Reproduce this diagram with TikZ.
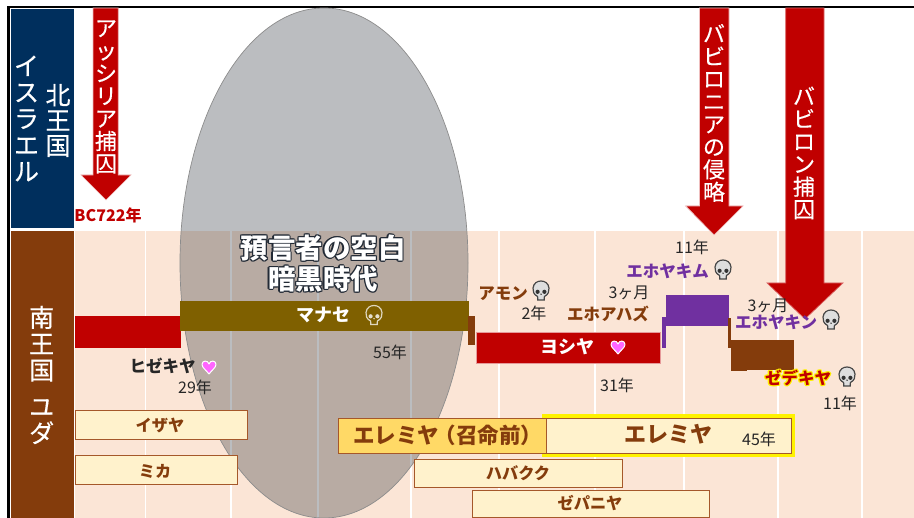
\documentclass[tikz,border=0pt]{standalone}
\usepackage{fontspec}
\setmainfont{Noto Sans CJK JP}
\newfontfamily\medfont[FakeBold=0.35]{Noto Sans CJK JP}
\usetikzlibrary{calc}
\definecolor{navyb}{HTML}{002F5D}
\definecolor{brownb}{HTML}{843C0C}
\definecolor{peach}{HTML}{FBE5D6}
\definecolor{redb}{HTML}{C00000}
\definecolor{olive}{HTML}{7F6000}
\definecolor{purpleb}{HTML}{7030A0}
\definecolor{cream}{HTML}{FFF2CC}
\definecolor{gold}{HTML}{FFD966}
\definecolor{inkt}{HTML}{262626}
\definecolor{boxedge}{HTML}{A5582A}
\definecolor{veil}{HTML}{1F2530}
\definecolor{heartp}{HTML}{FF66FF}
\definecolor{titleedge}{HTML}{222A35}
\newcommand\glowone[3]{\rlap{\kern#1\raise#2\hbox{#3}}}
\newcommand\glowtxt[3]{{\color{#1}%
\glowone{#2}{0pt}{#3}\glowone{-#2}{0pt}{#3}\glowone{0pt}{#2}{#3}\glowone{0pt}{-#2}{#3}%
\glowone{\dimexpr#2*7/10\relax}{\dimexpr#2*7/10\relax}{#3}\glowone{\dimexpr-#2*7/10\relax}{\dimexpr#2*7/10\relax}{#3}%
\glowone{\dimexpr#2*7/10\relax}{\dimexpr-#2*7/10\relax}{#3}\glowone{\dimexpr-#2*7/10\relax}{\dimexpr-#2*7/10\relax}{#3}}#3}
\tikzset{
  x=1pt,y=-1pt,
  lab/.style={inner sep=0pt,align=center},
  yrs/.style={lab,text=inkt,font=\fontsize{16}{18}\selectfont},
  kingb/.style={lab,font=\fontsize{16.5}{18}\selectfont\bfseries},
  vert/.style={lab,text=white,font=\medfont\fontsize{#1}{22.6}\selectfont},
  vertl/.style={lab,text=white,font=\medfont\fontsize{25}{26.4}\selectfont},
  bar/.style={fill=#1,draw=none},
  prophet/.style={fill=cream,draw=boxedge,line width=1pt},
  proname/.style={lab,text=brownb,font=\fontsize{16.2}{18}\selectfont\bfseries},
  arrowr/.style={fill=redb,draw=white!75!redb,line width=.7pt,line join=miter},
  grid/.style={draw=white,line width=1.2pt},
  skull/.pic={
    \fill[draw=\skulledge,line width=1.2pt,fill=\skullfill]
      (-3.2,9) -- (3.2,9) -- (3.4,5.5) .. controls (7.5,3.5) and (8.3,0) .. (8,-3)
      .. controls (7.4,-8) and (3.5,-10) .. (0,-10)
      .. controls (-3.5,-10) and (-7.4,-8) .. (-8,-3)
      .. controls (-8.3,0) and (-7.5,3.5) .. (-3.4,5.5) -- cycle;
    \fill[fill=\skulleye] (-3.4,.8) circle (2.1) (3.4,.8) circle (2.1);
    \fill[fill=\skulleye] (0,3.2) circle (.8);
  },
  heart/.pic={
    \fill[fill=heartp,draw=white,line width=1pt,line join=round]
      (0,7) .. controls (-3,3) and (-7,.5) .. (-7,-2.5)
      .. controls (-7,-7) and (-1,-7) .. (0,-3)
      .. controls (1,-7) and (7,-7) .. (7,-2.5)
      .. controls (7,.5) and (3,3) .. (0,7) -- cycle;
  }
}
\newcommand\skulledge{black!72}
\newcommand\skullfill{black!13}
\newcommand\skulleye{black!80}
\begin{document}
\begin{tikzpicture}
\useasboundingbox (0,0) rectangle (914,518);
\fill[white] (0,0) rectangle (914,518);
% backgrounds
\fill[peach] (75,231) rectangle (914,518);
\foreach \gx in {145.7,231,318,411,499,595,684,778,862}
  \draw[grid] (\gx,231) -- (\gx,518);
\fill[navyb] (10.7,9) rectangle (74,228.5);
\fill[brownb] (10.7,231) rectangle (74,518);
\draw[black,line width=2.6pt] (8.6,518) -- (8.6,7.2) -- (914,7.2);
% ellipse
\fill[veil,fill opacity=.3] (324,263) ellipse [x radius=144, y radius=255];
\draw[black!45,line width=.7pt] (324,263) ellipse [x radius=144, y radius=255];
% side labels
\node[vertl] (n1) at (26.5,118.5) {イ\\ス\\ラ\\エ\\ル};
\node[vertl,font=\medfont\fontsize{25}{25.2}\selectfont] (n2) at (58,120.5) {北\\王\\国};
\node[vertl] (n3) at (41.7,375) {南\\王\\国\\[10pt]ユ\\ダ};
% arrows
\draw[arrowr] (93,8) -- (118.3,8) -- (118.3,175) -- (131,175) -- (106,200) -- (81,175) -- (93,175) -- cycle;
\node[vert=22] (a1) at (106,97) {ア\\ッ\\シ\\リ\\ア\\捕\\囚};
\node[lab,text=redb,font=\fontsize{16}{18}\selectfont\bfseries] (a1y) at (108,215) {BC722年};
\draw[arrowr] (699.5,8) -- (729,8) -- (729,206) -- (743,206) -- (714,235) -- (685.7,206) -- (699.5,206) -- cycle;
\node[vert=22] (a2) at (714,113) {バ\\ビ\\ロ\\ニ\\ア\\の\\侵\\略};
% bars
\fill[bar=redb] (75,316) rectangle (181,348);
\fill[bar=olive] (180,301) rectangle (469,331);
\fill[bar=brownb] (468,316) rectangle (475,345);
\fill[bar=redb,draw=white!60!redb,line width=.5pt] (476.7,332.7) rectangle (660,363.3);
\fill[bar=purpleb] (662,317) rectangle (666,348);
\fill[bar=purpleb] (666,295) rectangle (729,326);
\fill[bar=brownb] (728,318) rectangle (731,348);
\fill[bar=brownb] (731,340) rectangle (794,370);
\fill[bar=brownb] (731,370) rectangle (747,371);
% big arrow
\draw[arrowr,draw=white!40!redb] (785.7,8) -- (824,8) -- (824,283) -- (843,283) -- (805,319) -- (767,283) -- (785.7,283) -- cycle;
\node[vert=22] (a3) at (804,153) {バ\\ビ\\ロ\\ン\\捕\\囚};
% prophets
\draw[prophet] (75,411) rectangle (247,440);
\node[proname] (p1) at (160,425) {イザヤ};
\draw[prophet] (75,456) rectangle (237,485);
\node[proname] (p2) at (155,471) {ミカ};
\fill[yellow] (541.5,414) rectangle (795,457.5);
\draw[prophet,fill=gold] (338.7,418.7) rectangle (546.7,453.7);
\draw[prophet] (546.7,418.7) rectangle (791.7,453.7);
\node[proname,font=\fontsize{21.5}{24}\selectfont\bfseries] (p3) at (444,435) {エレミヤ\kern-.2em（召命前）\kern-.35em};
\node[proname,font=\fontsize{22}{24}\selectfont\bfseries] (p4) at (668,434) {エレミヤ};
\node[yrs] (p4y) at (759,439) {45年};
\draw[prophet] (414.7,460) rectangle (622.3,488);
\node[proname] (p5) at (518,473) {ハバクク};
\draw[prophet] (472.3,490.7) rectangle (709.3,517.5);
\node[proname] (p6) at (590,503) {ゼパニヤ};
% central title
\node[lab,text=white,font=\fontsize{27.5}{31}\selectfont\bfseries] (t1) at (323,248) {\glowtxt{titleedge}{1.3pt}{預言者の空白}};
\node[lab,text=white,font=\fontsize{27.5}{31}\selectfont\bfseries] (t2) at (323,279) {\glowtxt{titleedge}{1.3pt}{暗黒時代}};
% kings
\node[kingb,text=inkt] (k1) at (162.5,366) {ヒゼキヤ};
\pic at (209,367) {heart};
\node[yrs] (k1y) at (195,387) {29年};
\node[lab,text=white,font=\fontsize{18}{20}\selectfont\bfseries] (k2) at (323,315) {マナセ};
\begingroup
\renewcommand\skulledge{white!75!olive}\renewcommand\skullfill{olive}\renewcommand\skulleye{white!80!olive}
\pic at (374,315.5) {skull};
\endgroup
\node[yrs] (k2y) at (390,352) {55年};
\node[kingb,text=brownb] (k3) at (503,294) {アモン};
\pic at (541,291) {skull};
\node[yrs] (k3y) at (534,313) {2年};
\node[lab,text=white,font=\fontsize{18}{20}\selectfont\bfseries] (k4) at (567,347) {ヨシヤ};
\pic at (618,347) {heart};
\node[yrs] (k4y) at (617,385) {31年};
\node[yrs] (k5m) at (629,293) {3ヶ月};
\node[kingb,text=brownb] (k5) at (608,314) {エホアハズ};
\node[yrs] (k6y) at (692,247) {11年};
\node[kingb,text=purpleb] (k6) at (667.5,271) {エホヤキム};
\pic at (723,270) {skull};
\node[yrs] (k7m) at (768,306) {3ヶ月};
\node[kingb,text=purpleb] (k7) at (776,322) {エホヤキン};
\pic at (831,320) {skull};
\node[kingb,text=redb] (k8) at (798,378) {\glowtxt{yellow}{1.4pt}{ゼデキヤ}};
\pic at (847,377) {skull};
\node[yrs] (k8y) at (840,403) {11年};
\end{tikzpicture}
\end{document}
